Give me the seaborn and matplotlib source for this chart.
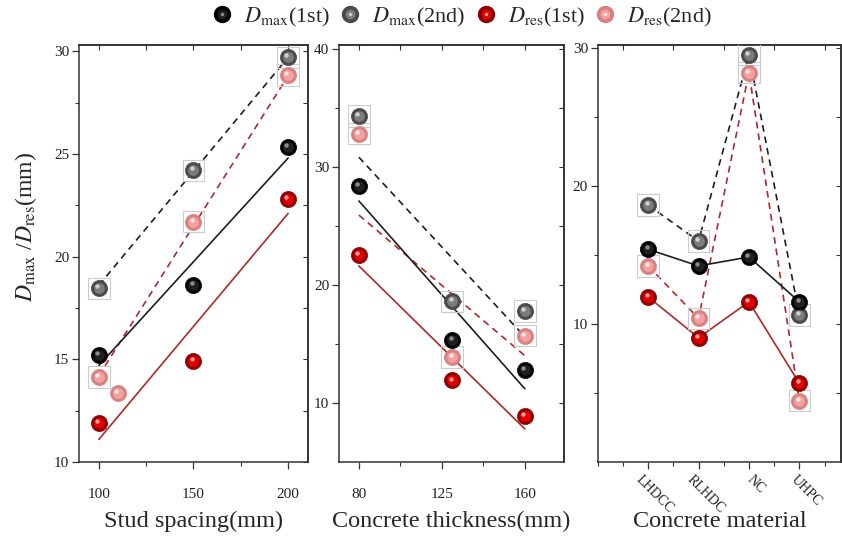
import numpy as np
import matplotlib
matplotlib.use('Agg')
import matplotlib.pyplot as plt
import matplotlib.transforms as mtransforms
from matplotlib.lines import Line2D
import seaborn as sns

# 데이터
spacing = [100, 150, 200]
spacing_dmax1 = [15.2, 18.6, 25.35]
spacing_dmax2 = [18.45, 24.2, 29.7]
spacing_dres1 = [11.9, 14.9, 22.8]
spacing_dres2 = [14.15, 21.7, 28.85]
spacing_extra = [110]
spacing_extra_dres2 = [13.35]

thickness = [80, 125, 160]
thickness_ticks = [80, 120, 160]
thickness_labels = ['80', '125', '160']
thickness_dmax1 = [28.4, 15.3, 12.8]
thickness_dmax2 = [34.3, 18.6, 17.8]
thickness_dres1 = [22.5, 11.9, 8.9]
thickness_dres2 = [32.8, 13.9, 15.7]

material = ['LHDCC', 'RLHDC', 'NC', 'UHPC']
material_dmax1 = [15.4, 14.2, 14.85, 11.6]
material_dmax2 = [18.6, 16.0, 29.5, 10.65]
material_dres1 = [11.95, 9.0, 11.6, 5.7]
material_dres2 = [14.2, 10.4, 28.2, 4.45]

# 추세선 (양 끝 값)
spacing_fit_x = [100, 200]
spacing_fit_dmax1 = [14.7, 24.8]
spacing_fit_dmax2 = [18.6, 29.7]
spacing_fit_dres1 = [11.1, 22.1]
spacing_fit_dres2 = [14.2, 28.8]
thickness_fit_x = [80, 160]
thickness_fit_dmax1 = [27.1, 11.2]
thickness_fit_dmax2 = [30.8, 15.6]
thickness_fit_dres1 = [21.6, 7.8]
thickness_fit_dres2 = [25.9, 14.0]

# 색 (어두운색, 중간색, 하이라이트)
c_dmax1 = ('#000000', '#202020', '#8c8c8c')
c_dmax2 = ('#4a4a4a', '#7c7c7c', '#cfcfcf')
c_dres1 = ('#8e0000', '#e00000', '#ff9a9a')
c_dres2 = ('#d98080', '#f2a2a2', '#fde6e6')
line_black = '#1e1e1e'
line_red = '#b02828'
dash = (0, (4, 3))

sns.set_theme(style='ticks')
plt.rcParams['font.family'] = ['Liberation Serif', 'DejaVu Serif']
plt.rcParams['mathtext.fontset'] = 'stix'

fig = plt.figure(figsize=(8.42, 5.38), dpi=100)
ax1 = fig.add_axes([0.0938, 0.1413, 0.272, 0.775])
ax2 = fig.add_axes([0.4026, 0.1413, 0.267, 0.775])
ax3 = fig.add_axes([0.710, 0.1413, 0.289, 0.775])


def balls(ax, x, y, colors, boxed=False):
    dark, mid, light = colors
    if boxed:
        ax.scatter(x, y, marker='s', s=240, facecolors='none',
                   edgecolors='#cccccc', linewidths=0.8, zorder=3)
    sns.scatterplot(x=x, y=y, ax=ax, s=135, color=dark, edgecolor=dark,
                    linewidth=0.5, zorder=4)
    sns.scatterplot(x=x, y=y, ax=ax, s=60, color=mid, linewidth=0, zorder=5)
    hl = mtransforms.offset_copy(ax.transData, fig=fig, x=-1.2, y=1.4, units='points')
    ax.scatter(x, y, s=10, color=light, linewidths=0, zorder=6, transform=hl)


def trend(ax, x, y, color, ls='-'):
    sns.lineplot(x=x, y=y, ax=ax, color=color, linewidth=1.2, linestyle=ls, zorder=2)


def style_axes(ax, xmaj, xmin, ymaj, ymin, top_ticks=None):
    ax.set_xticks(xmaj)
    ax.set_xticks(xmin, minor=True)
    ax.set_yticks(ymaj)
    ax.set_yticks(ymin, minor=True)
    ax.tick_params(which='major', direction='out', length=5, width=0.9,
                   colors='#333333', labelsize=11, labelcolor='#222222')
    ax.tick_params(which='minor', direction='out', length=3, width=0.8, colors='#333333')
    ax.tick_params(axis='y', pad=2)
    for s in ax.spines.values():
        s.set_color('#333333')
        s.set_linewidth(1.1)
        s.set_visible(True)
    # 위/오른쪽 안쪽 눈금
    top = ax.secondary_xaxis('top')
    top.set_xticks(xmaj if top_ticks is None else top_ticks)
    if top_ticks is None:
        top.set_xticks(xmin, minor=True)
    top.tick_params(which='both', direction='in', length=3.5, width=0.8,
                    colors='#333333', labeltop=False, labelbottom=False)
    top.spines['top'].set_color('#333333')
    right = ax.secondary_yaxis('right')
    right.set_yticks(ymaj)
    right.set_yticks(ymin, minor=True)
    right.tick_params(which='both', direction='in', length=3.5, width=0.8,
                      colors='#333333', labelright=False, labelleft=False)
    right.spines['right'].set_color('#333333')


# 1: Stud spacing
trend(ax1, spacing_fit_x, spacing_fit_dmax2, line_black, dash)
trend(ax1, spacing_fit_x, spacing_fit_dres2, line_red, dash)
trend(ax1, spacing_fit_x, spacing_fit_dmax1, line_black)
trend(ax1, spacing_fit_x, spacing_fit_dres1, line_red)
balls(ax1, spacing, spacing_dmax2, c_dmax2, boxed=True)
balls(ax1, spacing, spacing_dres2, c_dres2, boxed=True)
balls(ax1, spacing_extra, spacing_extra_dres2, c_dres2)
balls(ax1, spacing, spacing_dmax1, c_dmax1)
balls(ax1, spacing, spacing_dres1, c_dres1)
ax1.set_xlim(89.5, 210.5)
ax1.set_ylim(10, 30.3)
style_axes(ax1, [100, 150, 200], [125, 175], [10, 15, 20, 25, 30],
           [12.5, 17.5, 22.5, 27.5])
ax1.tick_params(axis='x', pad=14)
ax1.set_ylabel(r'$D_{\mathrm{max}}$ /$D_{\mathrm{res}}$(mm)', fontsize=17)
ax1.yaxis.set_label_coords(-0.175, 0.565)
ax1.set_xlabel('Stud spacing(mm)', fontsize=17.5)
ax1.xaxis.set_label_coords(0.5, -0.118)

# 2: Concrete thickness
trend(ax2, thickness_fit_x, thickness_fit_dmax2, line_black, dash)
trend(ax2, thickness_fit_x, thickness_fit_dres2, line_red, dash)
trend(ax2, thickness_fit_x, thickness_fit_dmax1, line_black)
trend(ax2, thickness_fit_x, thickness_fit_dres1, line_red)
balls(ax2, thickness, thickness_dmax2, c_dmax2, boxed=True)
balls(ax2, thickness, thickness_dres2, c_dres2, boxed=True)
balls(ax2, thickness, thickness_dmax1, c_dmax1)
balls(ax2, thickness, thickness_dres1, c_dres1)
ax2.set_xlim(70.4, 178.8)
ax2.set_ylim(5, 40.3)
style_axes(ax2, thickness_ticks, [100, 140], [10, 20, 30, 40], [15, 25, 35])
ax2.set_xticklabels(thickness_labels)
ax2.tick_params(axis='x', pad=14)
ax2.set_xlabel('Concrete thickness(mm)', fontsize=17.5)
ax2.xaxis.set_label_coords(0.5, -0.118)

# 3: Concrete material
pos = np.arange(1, len(material) + 1)
trend(ax3, pos, material_dmax2, line_black, dash)
trend(ax3, pos, material_dres2, line_red, dash)
trend(ax3, pos, material_dmax1, line_black)
trend(ax3, pos, material_dres1, line_red)
balls(ax3, pos, material_dmax2, c_dmax2, boxed=True)
balls(ax3, pos, material_dres2, c_dres2, boxed=True)
balls(ax3, pos, material_dmax1, c_dmax1)
balls(ax3, pos, material_dres1, c_dres1)
ax3.set_xlim(0, 4.83)
ax3.set_ylim(0, 30.2)
half = [0, 0.5, 1.5, 2.5, 3.5, 4.5]
style_axes(ax3, pos, half, [10, 20, 30], [5, 15, 25], top_ticks=half[1:])
ax3.set_xticklabels(material, rotation=-45, ha='center', va='top')
ax3.tick_params(axis='x', pad=3, labelsize=10)
shift = mtransforms.ScaledTranslation(5 / 72, 0, fig.dpi_scale_trans)
for lab in ax3.get_xticklabels():
    lab.set_transform(lab.get_transform() + shift)
ax3.set_xlabel('Concrete material', fontsize=17.5)
ax3.xaxis.set_label_coords(0.5, -0.118)

# 범례
def handle(colors):
    dark, mid, light = colors
    return (Line2D([], [], marker='o', ls='none', markersize=11.5,
                   markerfacecolor=dark, markeredgecolor=dark),
            Line2D([], [], marker='o', ls='none', markersize=7,
                   markerfacecolor=mid, markeredgewidth=0),
            Line2D([], [], marker='o', ls='none', markersize=2.5,
                   markerfacecolor=light, markeredgewidth=0))


handles = [handle(c_dmax1), handle(c_dmax2), handle(c_dres1), handle(c_dres2)]
labels = [r'$D_{\mathrm{max}}$(1st)', r'$D_{\mathrm{max}}$(2nd)',
          r'$D_{\mathrm{res}}$(1st)', r'$D_{\mathrm{res}}$(2nd)']
fig.legend(handles, labels, loc='center', bbox_to_anchor=(0.548, 0.968), ncol=4,
           frameon=False, fontsize=16, handlelength=1.0, handletextpad=0.5,
           columnspacing=0.4, borderaxespad=0)

fig.savefig('out.png', dpi=100)
